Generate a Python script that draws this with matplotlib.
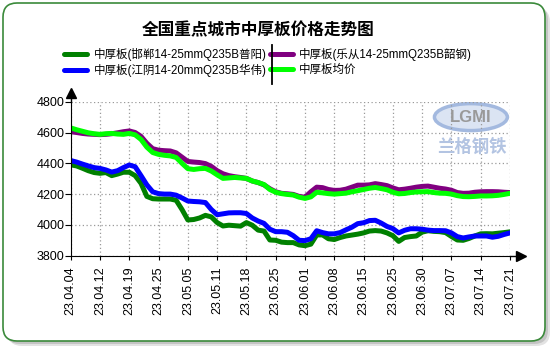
import matplotlib
matplotlib.use("Agg")
import matplotlib.pyplot as plt
import numpy as np
from matplotlib.patches import FancyBboxPatch, Ellipse
from matplotlib.lines import Line2D

plt.rcParams['font.family'] = ['Liberation Sans', 'Noto Sans CJK SC', 'DejaVu Sans']

# tick labels (one every 5 trading days)
tick_labels = ["23.04.04", "23.04.12", "23.04.19", "23.04.25", "23.05.05", "23.05.11",
               "23.05.18", "23.05.25", "23.06.01", "23.06.08", "23.06.15", "23.06.25",
               "23.06.30", "23.07.07", "23.07.14", "23.07.21"]

# prices, yuan/ton
handan = [4390, 4383, 4368, 4352, 4340, 4335, 4340, 4320, 4330, 4342,
          4342, 4320, 4270, 4185, 4170, 4168, 4168, 4168, 4160, 4100,
          4032, 4035, 4045, 4062, 4052, 4015, 3993, 3998, 3995, 3992,
          4015, 3998, 3966, 3960, 3902, 3900, 3888, 3885, 3885, 3870,
          3865, 3875, 3935, 3935, 3910, 3905, 3918, 3928, 3934, 3940,
          3948, 3960, 3963, 3960, 3948, 3930, 3893, 3918, 3924, 3928,
          3953, 3962, 3958, 3956, 3950, 3925, 3902, 3900, 3912, 3928,
          3942, 3943, 3942, 3946, 3950, 3955]
lecong = [4605, 4600, 4594, 4590, 4588, 4586, 4588, 4592, 4598, 4605,
          4610, 4600, 4575, 4530, 4495, 4485, 4482, 4480, 4468, 4440,
          4412, 4408, 4405, 4398, 4380, 4352, 4332, 4320, 4313, 4308,
          4302, 4285, 4275, 4260, 4235, 4215, 4205, 4202, 4198, 4185,
          4180, 4215, 4245, 4242, 4230, 4224, 4225, 4232, 4245, 4258,
          4258, 4260, 4268, 4262, 4255, 4240, 4228, 4232, 4238, 4245,
          4250, 4252, 4245, 4238, 4233, 4225, 4210, 4205, 4206, 4212,
          4215, 4216, 4216, 4215, 4212, 4210]
jiangyin = [4418, 4408, 4395, 4383, 4372, 4367, 4357, 4343, 4352, 4372,
            4389, 4378, 4320, 4260, 4215, 4203, 4200, 4200, 4193, 4175,
            4155, 4152, 4150, 4145, 4100, 4066, 4072, 4078, 4079, 4079,
            4074, 4045, 4025, 4010, 3972, 3956, 3956, 3952, 3930, 3900,
            3898, 3910, 3962, 3950, 3942, 3942, 3950, 3968, 3985, 4008,
            4014, 4028, 4030, 4012, 3990, 3976, 3948, 3965, 3975, 3975,
            3972, 3966, 3963, 3963, 3962, 3948, 3924, 3915, 3922, 3928,
            3928, 3928, 3920, 3926, 3938, 3948]
average = [4630, 4618, 4608, 4598, 4592, 4588, 4592, 4594, 4590, 4588,
           4594, 4585, 4555, 4505, 4470, 4458, 4452, 4448, 4438, 4400,
           4365, 4360, 4365, 4367, 4350, 4325, 4302, 4305, 4308, 4305,
           4302, 4285, 4275, 4262, 4230, 4212, 4203, 4198, 4194, 4180,
           4172, 4182, 4212, 4208, 4203, 4200, 4203, 4206, 4215, 4222,
           4230, 4238, 4243, 4236, 4228, 4212, 4202, 4204, 4210, 4214,
           4215, 4216, 4210, 4206, 4205, 4200, 4190, 4184, 4183, 4185,
           4188, 4188, 4189, 4192, 4198, 4205]

names = ["中厚板(邯郸14-25mmQ235B普阳)", "中厚板(江阴14-20mmQ235B华伟)",
         "中厚板(乐从14-25mmQ235B韶钢)", "中厚板均价"]

fig = plt.figure(figsize=(5.5, 3.5), dpi=100)

# rounded frame with a soft shadow, kept behind the axes
for off, col in [(5, '#e2e2e2'), (3, '#c4c4c4')]:
    fig.patches.append(FancyBboxPatch((0.03 + off / 100, 0.09 - off / 100), 5.42, 3.38,
                                      boxstyle="round,pad=0,rounding_size=0.14",
                                      transform=fig.dpi_scale_trans, fc=col, ec='none', zorder=-3))
fig.patches.append(FancyBboxPatch((0.03, 0.09), 5.42, 3.38,
                                  boxstyle="round,pad=0,rounding_size=0.14",
                                  transform=fig.dpi_scale_trans, fc='white', ec='#3b8a3b',
                                  lw=1.2, zorder=-2))

ax = fig.add_axes([70.7 / 550, 94.3 / 350, 439.3 / 550, 154 / 350])
ax.patch.set_alpha(0)

x = np.arange(len(handan))
ax.plot(x, handan, color='#008000', lw=3.6, label=names[0], solid_capstyle='round')
ax.plot(x, jiangyin, color='#0000ff', lw=3.6, label=names[1], solid_capstyle='round')
ax.plot(x, lecong, color='#800080', lw=3.6, label=names[2], solid_capstyle='round')
ax.plot(x, average, color='#00ff00', lw=3.6, label=names[3], solid_capstyle='round')

ax.set_xlim(0, len(x) - 1)
ax.set_ylim(3800, 4800)
ax.set_xticks(np.arange(0, len(x), 5))
ax.set_xticklabels(tick_labels, rotation=90, fontsize=9)
ax.set_yticks(np.arange(3800, 4801, 200))
ax.tick_params(axis='y', labelsize=9, length=4, pad=0.5)
ax.tick_params(axis='x', length=3, pad=5)
ax.grid(True, color='#9a9a9a', linestyle=(0, (1, 2)), lw=0.9)
ax.set_axisbelow(True)
for s in ['top', 'right']:
    ax.spines[s].set_visible(False)

# axis arrows
ax.plot([0, 0], [1, 1.03], transform=ax.transAxes, color='black', lw=1, clip_on=False)
ax.plot(0, 1.055, marker='^', ms=7, color='black', transform=ax.transAxes, clip_on=False)
ax.plot([1, 1.013], [0, 0], transform=ax.transAxes, color='black', lw=1, clip_on=False)
ax.plot(1.025, 0, marker='>', ms=7, color='black', transform=ax.transAxes, clip_on=False)

# watermark
ax.add_patch(Ellipse((0.911, 0.9), 0.166, 0.175, transform=ax.transAxes,
                     fc='#dbe4f3', ec='#a3b9df', lw=2.5, zorder=0.5))
ax.text(0.911, 0.9, "LGMI", transform=ax.transAxes, ha='center', va='center',
        fontsize=12, fontweight='bold', color='#999999', zorder=0.6)
ax.text(0.913, 0.705, "兰格钢铁", transform=ax.transAxes, ha='center', va='center',
        fontsize=12.5, fontweight='bold', color='#b3c4e2', zorder=0.6,
        family=['Noto Sans CJK SC'])

fig.text(0.47, 0.912, "全国重点城市中厚板价格走势图", ha='center', va='center',
         fontsize=12, fontweight='bold', family=['Noto Sans CJK SC', 'DejaVu Sans'])

ax.legend(loc='upper left', bbox_to_anchor=(64 / 550, 302 / 350), bbox_transform=fig.transFigure,
          ncol=2, frameon=False, fontsize=8.3, handlelength=2.0, handletextpad=0.55,
          columnspacing=0.3, labelspacing=0.22, borderpad=0, borderaxespad=0)

fig.add_artist(Line2D([272 / 550, 272 / 550], [305 / 350, 266 / 350], color='black', lw=1.3))

plt.savefig("out.png", dpi=100)
